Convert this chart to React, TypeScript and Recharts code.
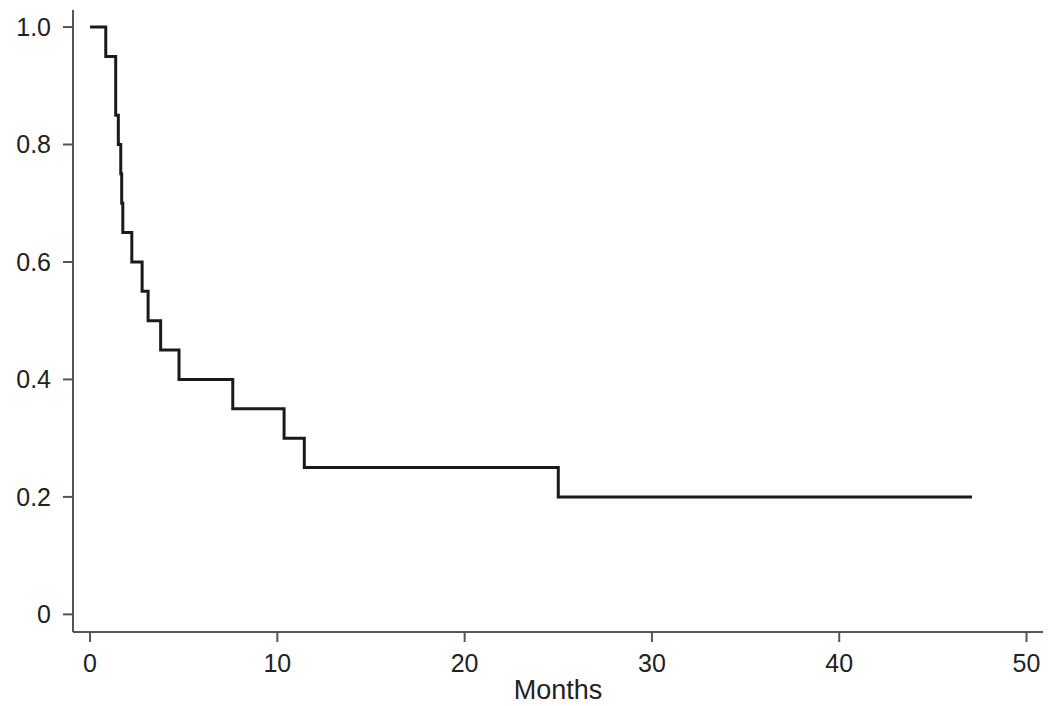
import { LineChart, Line, XAxis, YAxis } from "recharts";

// Kaplan-Meier estimate: time (months) and survival at that time
const months = [0, 0.84, 1.37, 1.51, 1.64, 1.69, 1.75, 2.23, 2.78, 3.1, 3.77, 4.75, 7.62, 10.36, 11.44, 25.0, 47.09];
const survival = [1.0, 0.95, 0.85, 0.8, 0.75, 0.7, 0.65, 0.6, 0.55, 0.5, 0.45, 0.4, 0.35, 0.3, 0.25, 0.2, 0.2];

const xTicks = [0, 10, 20, 30, 40, 50];
const yTicks = [0, 0.2, 0.4, 0.6, 0.8, 1.0];

const data = months.map((t, i) => ({ t, s: survival[i] }));

const axisColor = "#555";
const textColor = "#222";
const font = "'Liberation Sans', Arial, Helvetica, sans-serif";

export default function App() {
  return (
    <div style={{ position: "absolute", left: 0, top: 0, width: 1050, height: 706, background: "#fff" }}>
      <LineChart width={1050} height={706} data={data} margin={{ top: 10, right: 7, left: 0, bottom: 0 }}>
        <XAxis
          type="number"
          dataKey="t"
          domain={[-0.91, 50.88]}
          ticks={xTicks}
          allowDataOverflow
          height={74}
          stroke={axisColor}
          strokeWidth={2}
          tickSize={10}
          tickMargin={12}
          tick={{ fill: textColor, fontSize: 25, fontFamily: font }}
          label={{ value: "Months", position: "insideBottom", offset: 7, fill: textColor, fontSize: 27, fontFamily: font }}
        />
        <YAxis
          type="number"
          domain={[-0.03, 1.029]}
          ticks={yTicks}
          allowDataOverflow
          width={73}
          stroke={axisColor}
          strokeWidth={2}
          tickSize={10}
          tickMargin={12}
          tickFormatter={(v: number) => (v === 0 ? "0" : v.toFixed(1))}
          tick={{ fill: textColor, fontSize: 25, fontFamily: font }}
        />
        <Line
          type="stepAfter"
          dataKey="s"
          stroke="#1a1a1a"
          strokeWidth={3}
          dot={false}
          isAnimationActive={false}
        />
      </LineChart>
    </div>
  );
}
